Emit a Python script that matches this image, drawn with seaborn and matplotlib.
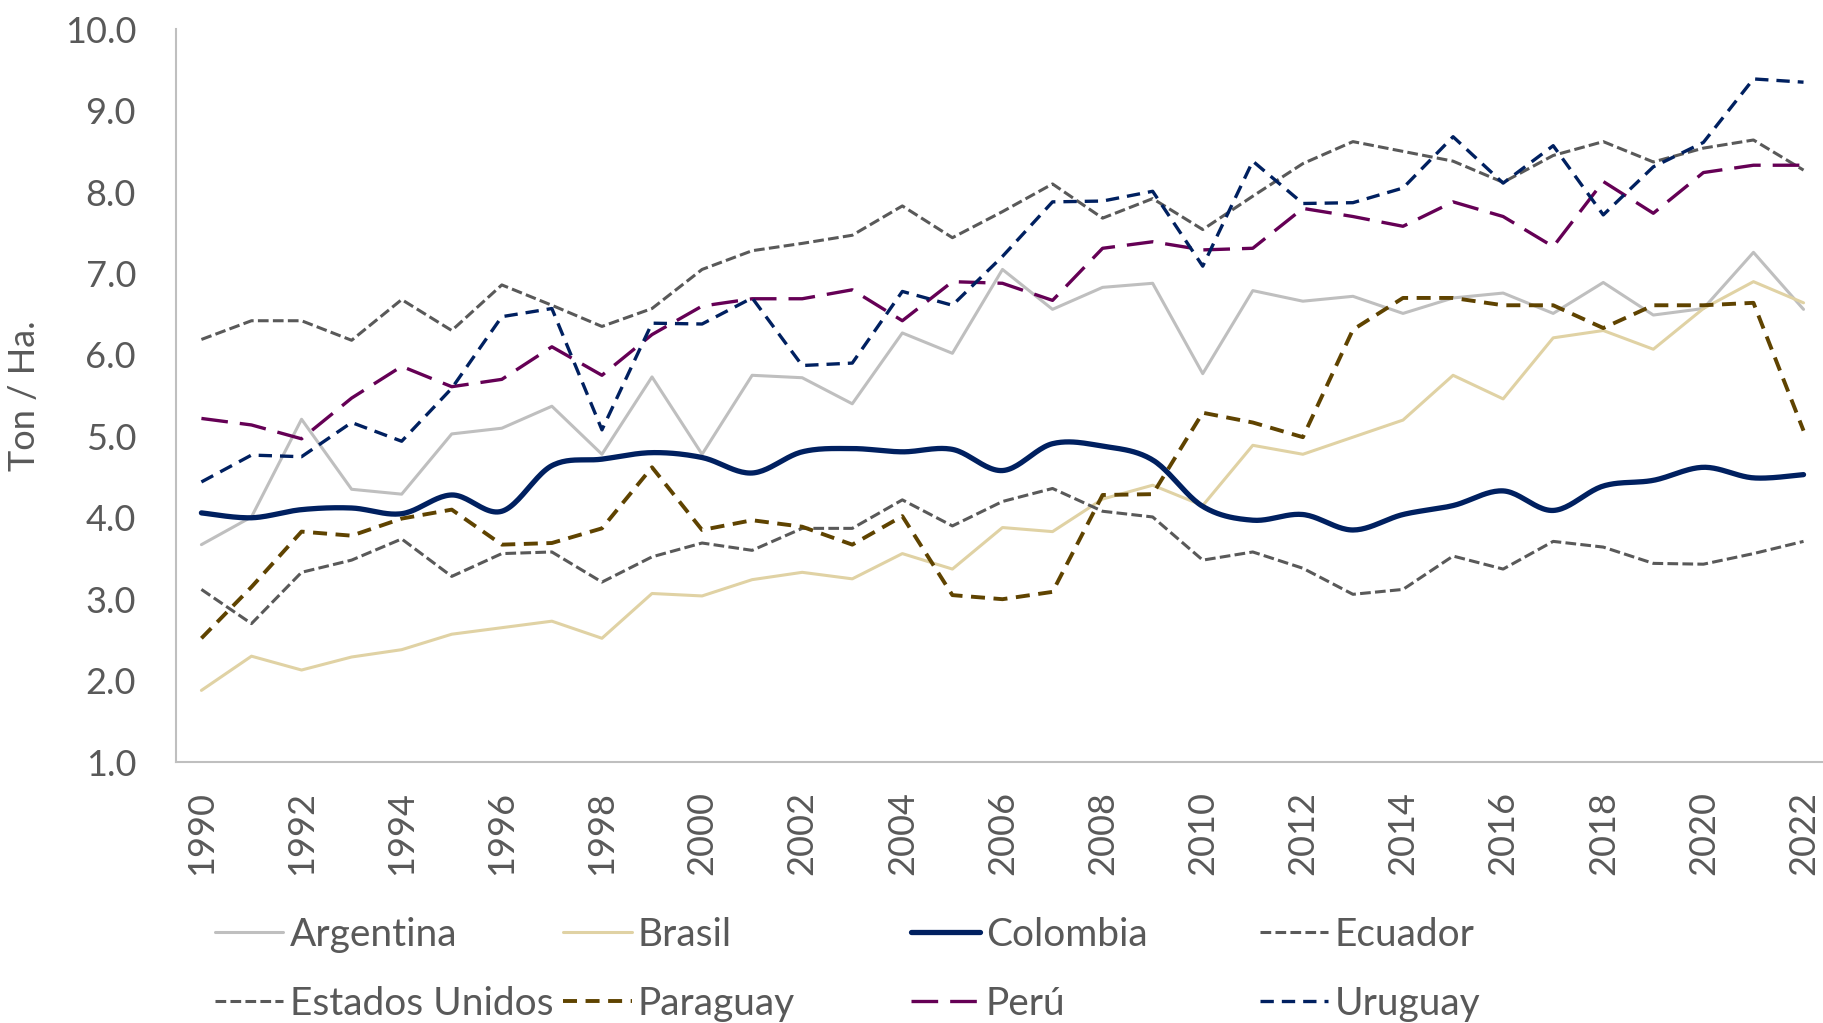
import numpy as np
import pandas as pd
import matplotlib
matplotlib.use("Agg")
import matplotlib.pyplot as plt
import seaborn as sns

# Datos (Ton / Ha.)
anios = list(range(1990, 2023))
argentina = [3.67, 4.01, 5.21, 4.35, 4.29, 5.03, 5.10, 5.37, 4.78, 5.73, 4.78,
             5.75, 5.72, 5.40, 6.27, 6.02, 7.05, 6.56, 6.83, 6.88, 5.77, 6.79,
             6.66, 6.72, 6.51, 6.70, 6.76, 6.51, 6.89, 6.49, 6.57, 7.26, 6.56]
brasil = [1.88, 2.30, 2.13, 2.29, 2.38, 2.57, 2.65, 2.73, 2.52, 3.07, 3.04,
          3.24, 3.33, 3.25, 3.56, 3.37, 3.88, 3.83, 4.23, 4.40, 4.15, 4.89,
          4.78, 4.99, 5.20, 5.75, 5.46, 6.21, 6.30, 6.07, 6.57, 6.90, 6.64]
colombia = [4.06, 4.00, 4.10, 4.12, 4.05, 4.28, 4.08, 4.64, 4.72, 4.80, 4.74,
            4.55, 4.81, 4.85, 4.81, 4.84, 4.58, 4.91, 4.88, 4.71, 4.14, 3.97,
            4.04, 3.85, 4.04, 4.15, 4.33, 4.09, 4.39, 4.46, 4.62, 4.49, 4.53]
ecuador = [3.12, 2.70, 3.33, 3.48, 3.74, 3.28, 3.56, 3.58, 3.21, 3.52, 3.69,
           3.60, 3.87, 3.87, 4.22, 3.90, 4.20, 4.36, 4.08, 4.01, 3.48, 3.58,
           3.38, 3.06, 3.12, 3.53, 3.37, 3.71, 3.64, 3.44, 3.43, 3.56, 3.71]
estados_unidos = [6.19, 6.42, 6.42, 6.18, 6.68, 6.30, 6.86, 6.61, 6.35, 6.57, 7.05,
                  7.28, 7.37, 7.47, 7.83, 7.44, 7.76, 8.10, 7.68, 7.92, 7.54, 7.95,
                  8.35, 8.62, 8.50, 8.38, 8.12, 8.45, 8.62, 8.37, 8.54, 8.64, 8.27]
paraguay = [2.52, 3.15, 3.83, 3.78, 3.99, 4.10, 3.67, 3.69, 3.87, 4.62, 3.85,
            3.97, 3.89, 3.67, 4.02, 3.05, 3.00, 3.09, 4.28, 4.29, 5.29, 5.17,
            4.99, 6.31, 6.70, 6.70, 6.61, 6.61, 6.33, 6.61, 6.61, 6.64, 5.07]
peru = [5.22, 5.14, 4.97, 5.47, 5.86, 5.61, 5.70, 6.10, 5.75, 6.25, 6.60,
        6.69, 6.69, 6.80, 6.42, 6.90, 6.88, 6.67, 7.31, 7.39, 7.29, 7.31,
        7.80, 7.70, 7.58, 7.88, 7.70, 7.33, 8.13, 7.74, 8.24, 8.33, 8.33]
uruguay = [4.44, 4.77, 4.75, 5.17, 4.94, 5.59, 6.47, 6.57, 5.08, 6.39, 6.38,
           6.70, 5.87, 5.90, 6.78, 6.61, 7.21, 7.88, 7.89, 8.01, 7.09, 8.38,
           7.86, 7.87, 8.05, 8.68, 8.11, 8.57, 7.72, 8.31, 8.61, 9.39, 9.35]

paises = ["Argentina", "Brasil", "Colombia", "Ecuador",
          "Estados Unidos", "Paraguay", "Perú", "Uruguay"]
valores = [argentina, brasil, colombia, ecuador,
           estados_unidos, paraguay, peru, uruguay]

# Estilos (color, grosor, trazo)
estilos = {
    "Argentina": ("#BFBFBF", 2.2, "-"),
    "Brasil": ("#E0D2A4", 2.2, "-"),
    "Colombia": ("#002060", 3.8, "-"),
    "Ecuador": ("#595959", 2.2, (0, (3.5, 1.4))),
    "Estados Unidos": ("#595959", 2.2, (0, (3.5, 1.4))),
    "Paraguay": ("#5F4300", 2.8, (0, (3.6, 2.2))),
    "Perú": ("#650055", 2.4, (0, (8, 3.6))),
    "Uruguay": ("#002060", 2.4, (0, (4, 2.4))),
}

df = pd.DataFrame({"anio": anios})
for p, v in zip(paises, valores):
    df[p] = v


# Línea suavizada tipo Excel (Bezier con tangentes Catmull-Rom)
def suavizar(x, y, n=24):
    x = np.asarray(x, float)
    y = np.asarray(y, float)
    xs, ys = [], []
    for i in range(len(x) - 1):
        x0, y0 = (x[i - 1], y[i - 1]) if i > 0 else (x[i], y[i])
        x3, y3 = (x[i + 2], y[i + 2]) if i + 2 < len(x) else (x[i + 1], y[i + 1])
        c1x, c1y = x[i] + (x[i + 1] - x0) / 6, y[i] + (y[i + 1] - y0) / 6
        c2x, c2y = x[i + 1] - (x3 - x[i]) / 6, y[i + 1] - (y3 - y[i]) / 6
        t = np.linspace(0, 1, n, endpoint=(i == len(x) - 2))
        b0, b1, b2, b3 = (1 - t) ** 3, 3 * t * (1 - t) ** 2, 3 * t ** 2 * (1 - t), t ** 3
        xs.append(b0 * x[i] + b1 * c1x + b2 * c2x + b3 * x[i + 1])
        ys.append(b0 * y[i] + b1 * c1y + b2 * c2y + b3 * y[i + 1])
    return np.concatenate(xs), np.concatenate(ys)


sns.set_style("white")
plt.rcParams["font.family"] = ["Lato", "DejaVu Sans"]
gris = "#595959"

fig = plt.figure(figsize=(18.24, 10.23), dpi=100)
ax = fig.add_axes([0.0967, 0.2551, 0.9058, 0.7163])

for p in paises:
    color, lw, ls = estilos[p]
    if p == "Colombia":
        xs, ys = suavizar(df["anio"], df[p])
        sns.lineplot(x=xs, y=ys, ax=ax, color=color, linewidth=lw,
                     linestyle=ls, label=p, sort=False, legend=False)
    else:
        sns.lineplot(x=df["anio"], y=df[p], ax=ax, color=color, linewidth=lw,
                     linestyle=ls, label=p, legend=False)

ax.set_xlim(1989.5, 2022.5)
ax.set_ylim(1, 10)
ax.set_yticks(np.arange(1, 11))
ax.set_yticklabels([f"{v:.1f}" for v in range(1, 11)])
ax.set_xticks(anios[::2])
ax.set_xticklabels([str(a) for a in anios[::2]], rotation=90)
ax.tick_params(axis="y", length=0, pad=29, labelsize=26, labelcolor=gris)
ax.tick_params(axis="x", length=0, pad=21, labelsize=26, labelcolor=gris)
ax.set_xlabel("")
ax.set_ylabel("Ton / Ha.", fontsize=26, color=gris, labelpad=8)
ax.yaxis.set_label_coords(-0.082, 0.5)

for lado in ["top", "right"]:
    ax.spines[lado].set_visible(False)
for lado in ["left", "bottom"]:
    ax.spines[lado].set_color("#BFBFBF")
    ax.spines[lado].set_linewidth(1.5)

# Leyenda en 4 columnas de igual ancho
handles, labels = ax.get_legend_handles_labels()
mapa = dict(zip(labels, handles))
columnas = [["Argentina", "Estados Unidos"], ["Brasil", "Paraguay"],
            ["Colombia", "Perú"], ["Ecuador", "Uruguay"]]
x_cols = [0.1179, 0.3087, 0.4995, 0.6908]
for xc, col in zip(x_cols, columnas):
    fig.legend([mapa[c] for c in col], col, loc="upper left",
               bbox_to_anchor=(xc, 0.104), frameon=False, fontsize=28,
               labelcolor=gris, handlelength=1.76, handletextpad=0.16,
               labelspacing=0.85, borderpad=0, borderaxespad=0)

fig.savefig("out.png", dpi=100)
